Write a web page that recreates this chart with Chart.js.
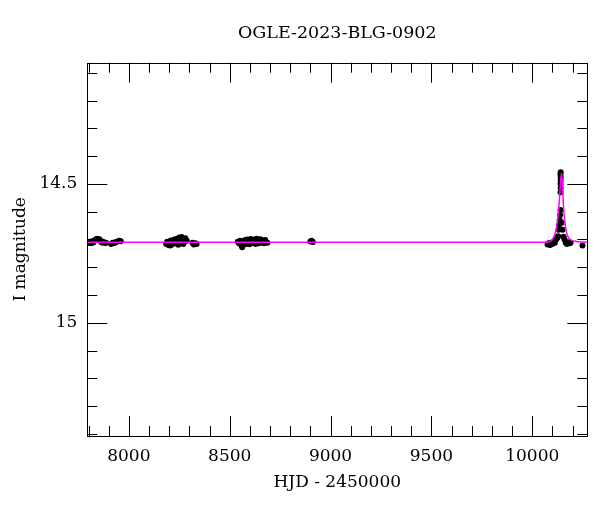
<!DOCTYPE html>
<html>
<head>
<meta charset="utf-8">
<script src="https://cdn.jsdelivr.net/npm/chart.js@4.4.0/dist/chart.umd.min.js"></script>
<style>
  html, body { margin: 0; padding: 0; background: #fff; }
</style>
</head>
<body>
<canvas id="lc" width="600" height="512"></canvas>
<script>
// light curve of OGLE-2023-BLG-0902
var titleText = "OGLE-2023-BLG-0902";
var xLabel = "HJD - 2450000";
var yLabel = "I magnitude";

var xTicks = [8000, 8500, 9000, 9500, 10000];
var yTicks = [14.5, 15];

// observed points (HJD - 2450000, I mag)
var obsHjd = [
  7800, 7806, 7812, 7818, 7824, 7830, 7836, 7842, 7848, 7854, 7860, 7866, 7872, 7880, 7887,
  7912, 7920, 7928, 7936, 7944, 7952, 7960,
  8185, 8190, 8196, 8202, 8208, 8214, 8220, 8226, 8232, 8238, 8244, 8250, 8256, 8262, 8268, 8274, 8280, 8287, 8205, 8245, 8270,
  8315, 8322, 8330, 8336,
  8540, 8546, 8552, 8558, 8562, 8568, 8574, 8580, 8586, 8592, 8598, 8604, 8610, 8616, 8622, 8628, 8634, 8640, 8646, 8652, 8658, 8664, 8670, 8676, 8682, 8687,
  8900, 8906, 8912,
  10076, 10082, 10088, 10094, 10100, 10106, 10112, 10118, 10124, 10128,
  10130, 10133, 10136, 10138, 10140,
  10140, 10141, 10140, 10141, 10141, 10140, 10141,
  10146, 10150, 10155, 10160, 10166, 10172, 10178, 10185, 10190,
  10249
];
var obsMag = [
  14.712, 14.708, 14.714, 14.706, 14.711, 14.704, 14.700, 14.697, 14.702, 14.699, 14.706, 14.711, 14.708, 14.713, 14.712,
  14.716, 14.712, 14.713, 14.709, 14.707, 14.705, 14.706,
  14.716, 14.708, 14.720, 14.712, 14.704, 14.718, 14.709, 14.700, 14.714, 14.697, 14.706, 14.693, 14.712, 14.691, 14.700, 14.709, 14.696, 14.705, 14.722, 14.719, 14.716,
  14.712, 14.718, 14.714, 14.716,
  14.708, 14.714, 14.705, 14.722, 14.728, 14.712, 14.703, 14.716, 14.700, 14.710, 14.717, 14.698, 14.707, 14.713, 14.700, 14.716, 14.697, 14.708, 14.714, 14.699, 14.710, 14.704, 14.714, 14.702, 14.710, 14.712,
  14.707, 14.705, 14.709,
  14.718, 14.714, 14.720, 14.712, 14.716, 14.708, 14.712, 14.700, 14.695, 14.688,
  14.665, 14.648, 14.630, 14.612, 14.594,
  14.530, 14.515, 14.500, 14.488, 14.476, 14.466, 14.458,
  14.640, 14.665, 14.690, 14.700, 14.712, 14.716, 14.710, 14.714, 14.712,
  14.722
];

// model curve
var modelHjd = [7794, 9000, 10060, 10080, 10100, 10110, 10120, 10131, 10138, 10145, 10150, 10156, 10165, 10173, 10190, 10220, 10273];
var modelMag = [14.71, 14.71, 14.71, 14.709, 14.700, 14.685, 14.660, 14.594, 14.520, 14.462, 14.500, 14.594, 14.655, 14.683, 14.700, 14.707, 14.71];

var serif = "'DejaVu Serif', 'Liberation Serif', serif";

var obsPoints = obsHjd.map(function(x, i) { return { x: x, y: obsMag[i] }; });
var modelPoints = modelHjd.map(function(x, i) { return { x: x, y: modelMag[i] }; });

// box with inward ticks on all four sides, plus the title
var frameTicks = {
  id: 'frameTicks',
  afterDatasetsDraw: function(chart) {
    var ctx = chart.ctx;
    var a = chart.chartArea;
    var xs = chart.scales.x, ys = chart.scales.y;
    ctx.save();
    ctx.strokeStyle = '#000';
    ctx.lineWidth = 1;
    ctx.beginPath();
    for (var v = 7800; v <= 10200; v += 100) {
      var px = Math.round(xs.getPixelForValue(v)) + 0.5;
      var len = (v % 500 === 0) ? 20 : 10;
      ctx.moveTo(px, a.bottom); ctx.lineTo(px, a.bottom - len);
      ctx.moveTo(px, a.top); ctx.lineTo(px, a.top + len);
    }
    for (var i = 141; i <= 154; i++) {
      var py = Math.round(ys.getPixelForValue(i / 10)) + 0.5;
      var l2 = (i % 5 === 0) ? 20 : 10;
      ctx.moveTo(a.left, py); ctx.lineTo(a.left + l2, py);
      ctx.moveTo(a.right, py); ctx.lineTo(a.right - l2, py);
    }
    ctx.stroke();
    ctx.strokeRect(Math.round(a.left) + 0.5, Math.round(a.top) + 0.5,
                   Math.round(a.right - a.left), Math.round(a.bottom - a.top));
    ctx.fillStyle = '#000';
    ctx.font = '17.5px ' + serif;
    ctx.textAlign = 'center';
    ctx.textBaseline = 'middle';
    ctx.fillText(titleText, (a.left + a.right) / 2, 33);
    ctx.restore();
  }
};

new Chart(document.getElementById('lc'), {
  type: 'scatter',
  data: {
    datasets: [
      {
        label: 'model',
        data: modelPoints,
        showLine: true,
        borderColor: '#ff00ff',
        borderWidth: 1.5,
        pointRadius: 0,
        cubicInterpolationMode: 'monotone',
        order: 0
      },
      {
        label: 'OGLE',
        data: obsPoints,
        backgroundColor: '#000',
        borderWidth: 0,
        pointRadius: 3,
        order: 1
      }
    ]
  },
  options: {
    responsive: false,
    animation: false,
    devicePixelRatio: 1,
    layout: { padding: { top: 62.7, right: 12.7, left: 0, bottom: 0 } },
    plugins: { legend: { display: false }, tooltip: { enabled: false }, title: { display: false } },
    scales: {
      x: {
        type: 'linear',
        min: 7794,
        max: 10273,
        grid: { display: false, drawTicks: false },
        border: { display: false },
        afterBuildTicks: function(s) { s.ticks = xTicks.map(function(v) { return { value: v }; }); },
        afterFit: function(s) { s.height = 76; },
        ticks: {
          color: '#000',
          padding: 10,
          font: { family: serif, size: 17 },
          callback: function(v) { return String(v); }
        },
        title: {
          display: true,
          text: xLabel,
          color: '#000',
          font: { family: serif, size: 17 },
          padding: { top: 0, bottom: 19 }
        }
      },
      y: {
        type: 'linear',
        reverse: true,
        min: 14.064,
        max: 15.407,
        grid: { display: false, drawTicks: false },
        border: { display: false },
        afterBuildTicks: function(s) { s.ticks = yTicks.map(function(v) { return { value: v }; }); },
        afterFit: function(s) { s.width = 87.3; },
        ticks: {
          color: '#000',
          padding: 10,
          font: { family: serif, size: 17 },
          callback: function(v) { return String(v); }
        },
        title: {
          display: true,
          text: yLabel,
          color: '#000',
          font: { family: serif, size: 17 },
          padding: { top: 10, bottom: 0 }
        }
      }
    }
  },
  plugins: [frameTicks]
});
</script>
</body>
</html>
